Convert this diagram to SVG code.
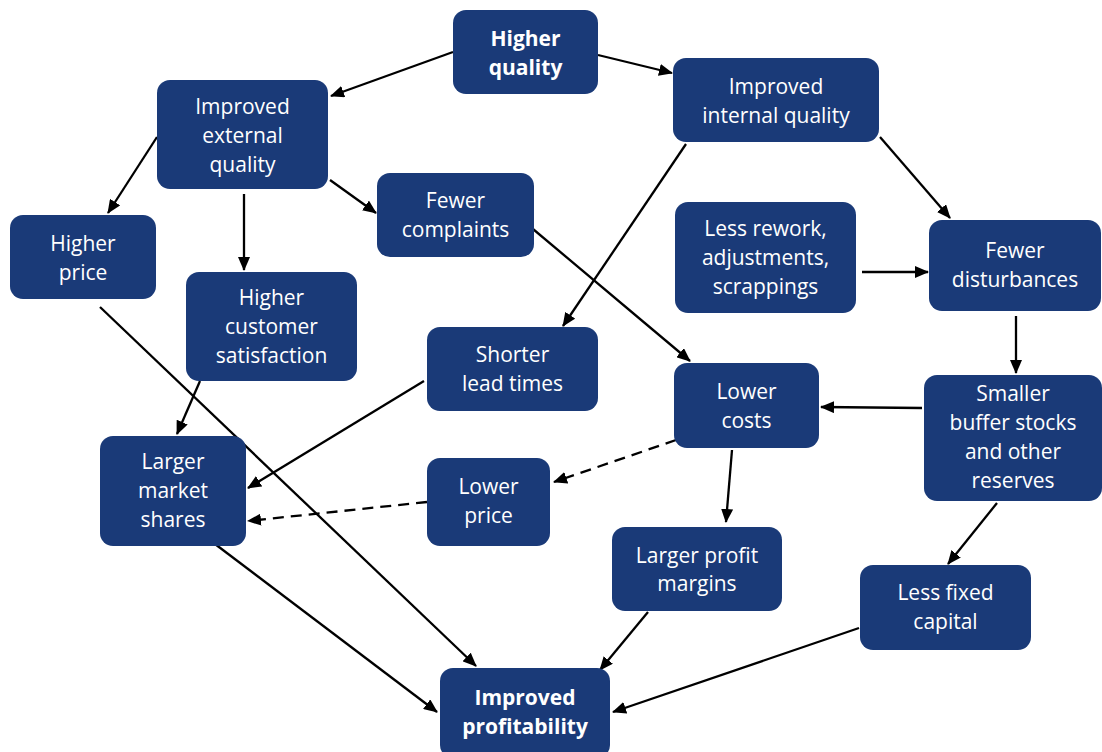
<svg xmlns="http://www.w3.org/2000/svg" width="1102" height="752" viewBox="0 0 1102 752">
<defs>
<marker id="ah" markerUnits="userSpaceOnUse" markerWidth="14" markerHeight="12" viewBox="0 0 14 12" refX="13" refY="6" orient="auto">
<path d="M0,0 L14,6 L0,12 Z" fill="#000"/>
</marker>
<style>
.n rect{fill:#1a3a78;}
.n text{fill:#fff;font-family:"Open Sans","Noto Sans",sans-serif;font-size:21px;text-anchor:middle;}
.n.b text{font-weight:bold;}
.c line{stroke:#000;stroke-width:2.3;marker-end:url(#ah);}
.c line.d{stroke-dasharray:11,7;}
</style>
</defs>
<rect width="1102" height="752" fill="#fff"/>
<g id="connectors" class="c">
<line x1="453" y1="52" x2="331" y2="96"/>
<line x1="598" y1="55" x2="672" y2="73"/>
<line x1="157" y1="137" x2="108" y2="213"/>
<line x1="244" y1="194" x2="244" y2="270"/>
<line x1="330" y1="180" x2="376" y2="213"/>
<line x1="880" y1="137" x2="950" y2="218"/>
<line x1="686" y1="144" x2="563" y2="326"/>
<line x1="527" y1="224" x2="690" y2="361"/>
<line x1="862" y1="272" x2="928" y2="272"/>
<line x1="1016" y1="316" x2="1016" y2="373"/>
<line x1="922" y1="408" x2="821" y2="407"/>
<line x1="997" y1="503" x2="948" y2="564"/>
<line x1="100" y1="307" x2="476" y2="666"/>
<line x1="200" y1="381" x2="177" y2="434"/>
<line x1="424" y1="381" x2="248" y2="488"/>
<line class="d" x1="676" y1="440" x2="554" y2="482"/>
<line class="d" x1="427" y1="502" x2="248" y2="521"/>
<line x1="732" y1="450" x2="726" y2="522"/>
<line x1="215" y1="544" x2="437" y2="712"/>
<line x1="648" y1="612" x2="600" y2="670"/>
<line x1="859" y1="628" x2="613" y2="712"/>
</g>
<g id="higher-quality" class="n b"><rect x="453" y="10" width="145" height="84" rx="13"/><text x="525.5" y="46">Higher</text><text x="525.5" y="75">quality</text></g>
<g id="improved-external-quality" class="n"><rect x="157" y="80" width="171" height="109" rx="13"/><text x="242.5" y="114">Improved</text><text x="242.5" y="143">external</text><text x="242.5" y="172">quality</text></g>
<g id="improved-internal-quality" class="n"><rect x="673" y="58" width="206" height="84" rx="13"/><text x="776" y="94">Improved</text><text x="776" y="123">internal quality</text></g>
<g id="higher-price" class="n"><rect x="10" y="215" width="146" height="84" rx="13"/><text x="83" y="251">Higher</text><text x="83" y="280">price</text></g>
<g id="fewer-complaints" class="n"><rect x="377" y="173" width="157" height="84" rx="13"/><text x="455.5" y="208">Fewer</text><text x="455.5" y="237">complaints</text></g>
<g id="higher-customer-satisfaction" class="n"><rect x="186" y="272" width="171" height="109" rx="13"/><text x="271.5" y="305">Higher</text><text x="271.5" y="334">customer</text><text x="271.5" y="363">satisfaction</text></g>
<g id="less-rework" class="n"><rect x="675" y="202" width="181" height="111" rx="13"/><text x="765.5" y="236">Less rework,</text><text x="765.5" y="265">adjustments,</text><text x="765.5" y="294">scrappings</text></g>
<g id="fewer-disturbances" class="n"><rect x="929" y="220" width="172" height="91" rx="13"/><text x="1015" y="258">Fewer</text><text x="1015" y="287">disturbances</text></g>
<g id="shorter-lead-times" class="n"><rect x="427" y="327" width="171" height="84" rx="13"/><text x="512.5" y="362">Shorter</text><text x="512.5" y="391">lead times</text></g>
<g id="lower-costs" class="n"><rect x="674" y="363" width="145" height="85" rx="13"/><text x="746.5" y="399">Lower</text><text x="746.5" y="428">costs</text></g>
<g id="smaller-buffer-stocks" class="n"><rect x="924" y="375" width="178" height="126" rx="13"/><text x="1013" y="401">Smaller</text><text x="1013" y="430">buffer stocks</text><text x="1013" y="459">and other</text><text x="1013" y="488">reserves</text></g>
<g id="larger-market-shares" class="n"><rect x="100" y="436" width="146" height="110" rx="13"/><text x="173" y="469">Larger</text><text x="173" y="498">market</text><text x="173" y="527">shares</text></g>
<g id="lower-price" class="n"><rect x="427" y="458" width="123" height="88" rx="13"/><text x="488.5" y="494">Lower</text><text x="488.5" y="523">price</text></g>
<g id="larger-profit-margins" class="n"><rect x="612" y="527" width="170" height="84" rx="13"/><text x="697" y="563">Larger profit</text><text x="697" y="591">margins</text></g>
<g id="less-fixed-capital" class="n"><rect x="860" y="565" width="171" height="85" rx="13"/><text x="945.5" y="600">Less fixed</text><text x="945.5" y="629">capital</text></g>
<g id="improved-profitability" class="n b"><rect x="440" y="668" width="170" height="90" rx="13"/><text x="525" y="705">Improved</text><text x="525" y="734">profitability</text></g>
</svg>
